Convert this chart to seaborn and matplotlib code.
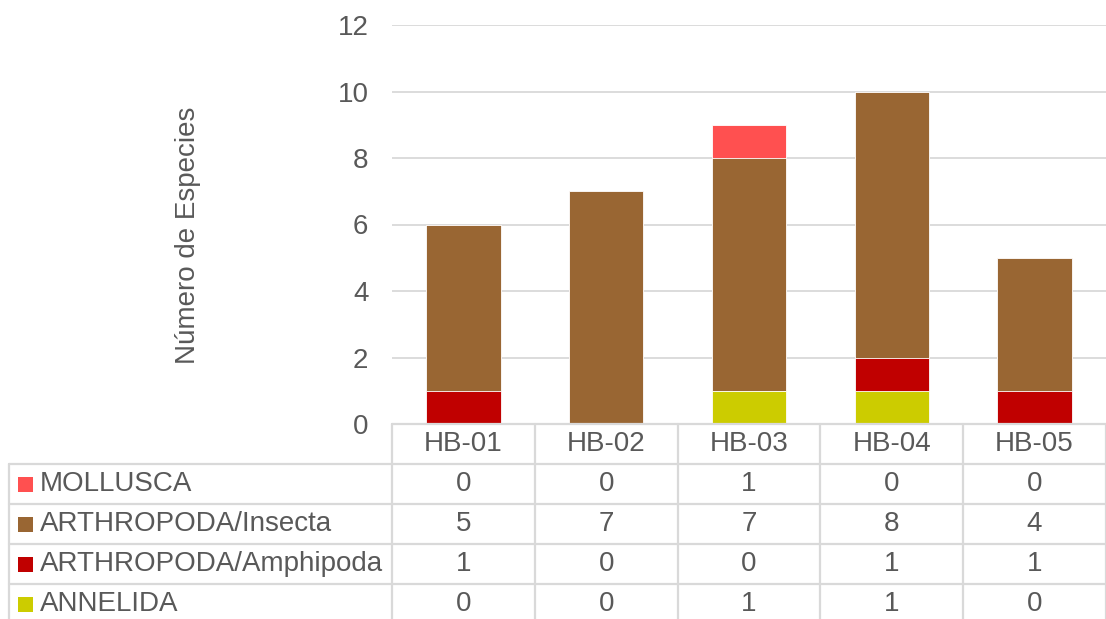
import numpy as np
import pandas as pd
import matplotlib
matplotlib.use("Agg")
import matplotlib.pyplot as plt
import matplotlib.transforms as mtransforms
from matplotlib.patches import Rectangle
from matplotlib.lines import Line2D
import seaborn as sns

# Species counts per sampling site
sites = ["HB-01", "HB-02", "HB-03", "HB-04", "HB-05"]
annelida = [0, 0, 1, 1, 0]
amphipoda = [1, 0, 0, 1, 1]
insecta = [5, 7, 7, 8, 4]
mollusca = [0, 0, 1, 0, 0]

series_names = ["MOLLUSCA", "ARTHROPODA/Insecta", "ARTHROPODA/Amphipoda", "ANNELIDA"]
series_colors = ["#FF5050", "#996633", "#C00000", "#CCCC00"]
y_ticks = [0, 2, 4, 6, 8, 10, 12]

df = pd.DataFrame({
    "site": sites,
    "ANNELIDA": annelida,
    "ARTHROPODA/Amphipoda": amphipoda,
    "ARTHROPODA/Insecta": insecta,
    "MOLLUSCA": mollusca,
})

sns.set_theme(style="white")
plt.rcParams["font.family"] = ["Liberation Sans", "DejaVu Sans"]
TEXT = "#595959"
GRID = "#D9D9D9"
FS = 20

W, H = 1106, 619
fig = plt.figure(figsize=(W / 100, H / 100), dpi=100)

# plot area in pixels
left, right, top, bottom = 392, 1106, 25, 424
ax = fig.add_axes([left / W, 1 - bottom / H, (right - left) / W, (bottom - top) / H])

# stacked bars: draw cumulative totals from the top layer down
stack_order = ["ANNELIDA", "ARTHROPODA/Amphipoda", "ARTHROPODA/Insecta", "MOLLUSCA"]
cum = df[stack_order].cumsum(axis=1)
color_of = dict(zip(series_names, series_colors))
for name in reversed(stack_order):
    sns.barplot(x=df["site"], y=cum[name], color=color_of[name], saturation=1,
                width=0.52, edgecolor="white", linewidth=0.6, ax=ax)

ax.set_xlim(-0.5, len(sites) - 0.5)
ax.set_ylim(0, 12)
ax.set_yticks(y_ticks)
ax.set_yticklabels([str(t) for t in y_ticks])
ax.yaxis.grid(True, color=GRID, linewidth=1.3)
ax.set_axisbelow(True)
for s in ax.spines.values():
    s.set_visible(False)
ax.tick_params(axis="y", length=0, pad=17, labelsize=FS, labelcolor=TEXT)
ax.tick_params(axis="x", length=0, pad=14.4, labelsize=FS, labelcolor=TEXT)
for lbl in ax.get_xticklabels():
    lbl.set_va("center")
ax.set_xlabel("")
ax.set_ylabel("")

fig.text(188 / W, 1 - 235 / H, "Número de Especies", rotation=90,
         ha="center", va="center", fontsize=FS, color=TEXT)

# data table beneath the chart
def fy(y):
    return 1 - y / H

def fx(x):
    return x / W

lines = []
lines.append(((left, right), (bottom, bottom)))
row_edges = [464, 504, 544, 584]
for y in row_edges:
    lines.append(((9, right), (y, y)))
step = (right - left) / len(sites)
for k in range(len(sites) + 1):
    x = left + k * step
    lines.append(((x, x), (bottom, H)))
lines.append(((9, 9), (464, H)))
for (xs, ys) in lines:
    fig.add_artist(Line2D([fx(v) for v in xs], [fy(v) for v in ys],
                          color=GRID, linewidth=1.6, transform=fig.transFigure))

blend = mtransforms.blended_transform_factory(ax.transData, fig.transFigure)
row_values = {"MOLLUSCA": mollusca, "ARTHROPODA/Insecta": insecta,
              "ARTHROPODA/Amphipoda": amphipoda, "ANNELIDA": annelida}
row_centers = [484, 524, 564, 604]
for name, color, yc in zip(series_names, series_colors, row_centers):
    fig.add_artist(Rectangle((fx(18), fy(yc + 7.5)), 15 / W, 15 / H,
                             facecolor=color, edgecolor="none",
                             transform=fig.transFigure))
    fig.text(fx(40), fy(yc), name, ha="left", va="center", fontsize=FS, color=TEXT)
    for i, v in enumerate(row_values[name]):
        fig.text(i, fy(yc), str(v), ha="center", va="center", fontsize=FS,
                 color=TEXT, transform=blend)

fig.savefig("out.png", dpi=100, facecolor="white")
